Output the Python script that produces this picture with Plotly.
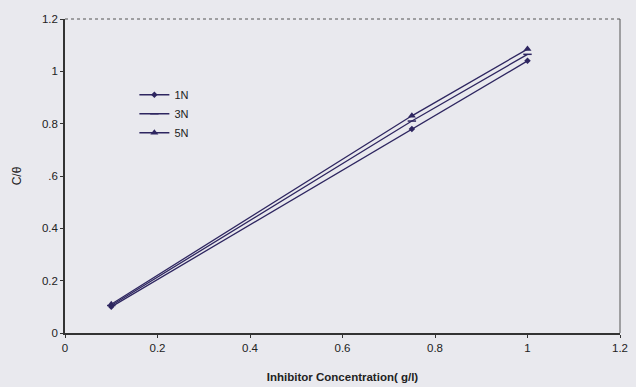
import plotly.graph_objects as go

conc = [0.1, 0.75, 1.0]
y_1N = [0.10, 0.78, 1.04]
y_3N = [0.105, 0.81, 1.065]
y_5N = [0.11, 0.83, 1.085]
series_names = ["1N", "3N", "5N"]
x_ticks = [0, 0.2, 0.4, 0.6, 0.8, 1, 1.2]
x_tick_labels = ["0", "0.2", "0.4", "0.6", "0.8", "1", "1.2"]
y_ticks = [0, 0.2, 0.4, 0.6, 0.8, 1, 1.2]
y_tick_labels = ["0", "0.2", "0.4", ".6", "0.8", "1", "1.2"]

line_color = "#2e2660"
bg = "#e9e9ee"
font_fam = "Liberation Sans, Arial, sans-serif"

fig = go.Figure()
markers = [dict(symbol="diamond", size=5), dict(symbol="line-ew-open", size=6, line=dict(width=1.5, color=line_color)), dict(symbol="triangle-up", size=7)]
for name, ys, mk in zip(series_names, [y_1N, y_3N, y_5N], markers):
    fig.add_trace(go.Scatter(x=conc, y=ys, name=name, mode="lines+markers",
                             line=dict(color=line_color, width=1.3),
                             marker=dict(color=line_color, **mk)))

fig.update_layout(
    width=636, height=387,
    margin=dict(l=65, r=16, t=19, b=54),
    paper_bgcolor=bg, plot_bgcolor=bg,
    font=dict(family=font_fam, size=11, color="#222"),
    showlegend=True,
    legend=dict(x=0.125, y=0.805, xanchor="left", yanchor="top", bgcolor="rgba(0,0,0,0)",
                font=dict(size=11, color="#222"), tracegroupgap=2, itemwidth=30),
    xaxis=dict(range=[0, 1.2], tickvals=x_ticks, ticktext=x_tick_labels, showgrid=False,
               zeroline=False, showline=True, linecolor="#333", linewidth=1.5,
               ticks="outside", ticklen=3, tickcolor="#333", automargin=False,
               tickfont=dict(size=11.5),
               title=dict(text="<b>Inhibitor Concentration( g/l)</b>", font=dict(size=11.5, color="#222"), standoff=20)),
    yaxis=dict(range=[0, 1.2], tickvals=y_ticks, ticktext=y_tick_labels, showgrid=False,
               zeroline=False, showline=True, linecolor="#333", linewidth=1.5,
               ticks="outside", ticklen=3, tickcolor="#333", automargin=False,
               tickfont=dict(size=11.5),
               title=dict(text="C/θ", font=dict(size=12, color="#222"), standoff=18)),
)
fig.add_shape(type="line", xref="paper", yref="paper", x0=0, x1=1, y0=1, y1=1,
              line=dict(color="#555", width=1, dash="dot"))
fig.add_shape(type="line", xref="paper", yref="paper", x0=1, x1=1, y0=0, y1=1,
              line=dict(color="#555", width=1))
fig.write_html("out.html", config={"displayModeBar": False},
               post_script="document.body.style.margin='0';document.body.style.background='#e9e9ee';document.body.style.overflow='hidden';")
